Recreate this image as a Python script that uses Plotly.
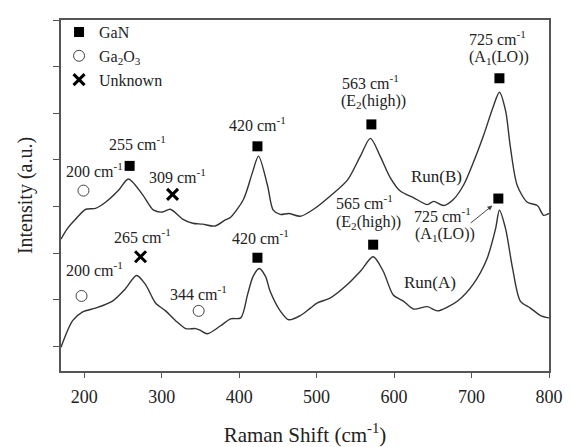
import plotly.graph_objects as go

# ---- data ----
run_b_x = [170, 178, 189, 202, 214.6, 227.5, 244, 257, 275, 289.6, 301, 311, 327, 340, 352.7, 369, 382, 389,
           405.5, 417, 425, 436.6, 444, 453, 464, 479, 496, 518, 540, 556.5, 569.4, 582, 595, 608, 625, 643,
           651, 664, 676.5, 689.4, 702, 715, 728, 736, 744, 750, 759, 772, 785, 793, 800]
run_b_y = [3.30, 3.52, 3.73, 3.94, 3.96, 4.09, 4.34, 4.59, 4.26, 3.92, 3.88, 3.94, 3.73, 3.64, 3.62, 3.58, 3.71, 3.77,
           4.15, 4.72, 5.08, 4.45, 3.92, 3.83, 3.85, 3.79, 3.94, 4.23, 4.57, 5.08, 5.46, 5.08, 4.62, 4.33, 4.19, 4.04,
           4.11, 4.02, 4.15, 4.45, 4.93, 5.50, 6.14, 6.45, 6.05, 5.29, 4.45, 4.09, 4.02, 3.81, 3.85]

run_a_x = [170, 185, 198, 214.6, 236.5, 253, 267.5, 279, 292, 305, 318, 331, 344, 350, 359, 376, 389, 402,
           411, 418, 426, 434, 440, 453, 464, 479, 492, 501, 518, 540, 556.5, 573, 586, 599, 612, 625, 643,
           656, 670, 682, 702, 720, 731, 736, 744, 753, 763, 776, 789, 800]
run_a_y = [0.98, 1.55, 1.74, 1.82, 1.97, 2.23, 2.52, 2.33, 1.93, 1.76, 1.55, 1.38, 1.38, 1.34, 1.27, 1.44, 1.59, 1.61,
           2.12, 2.50, 2.67, 2.50, 2.18, 1.76, 1.57, 1.66, 1.82, 1.93, 2.04, 2.33, 2.61, 2.92, 2.61, 2.10, 1.97, 1.80, 1.85,
           1.76, 1.85, 1.97, 2.33, 2.88, 3.52, 3.92, 3.52, 2.67, 1.97, 1.82, 1.66, 1.61]

gan_x = [258.6, 423.6, 570.7, 736, 423.6, 573, 734.6]
gan_y = [4.87, 5.29, 5.76, 6.75, 2.90, 3.18, 4.17]
ga2o3_x = [199, 196.5, 347.7]
ga2o3_y = [4.34, 2.08, 1.76]
unk_x = [314, 272.7]
unk_y = [4.26, 2.92]

x_ticks = [200, 300, 400, 500, 600, 700, 800]
y_ticks = [1, 2, 3, 4, 5, 6, 7, 8]

# labels: (text, x, y)
labels = [
    ("255 cm<sup>-1</sup>", 269, 5.36),
    ("200 cm<sup>-1</sup>", 212.6, 4.79),
    ("309 cm<sup>-1</sup>", 320.4, 4.66),
    ("265 cm<sup>-1</sup>", 274.8, 3.37),
    ("200 cm<sup>-1</sup>", 212.6, 2.66),
    ("344 cm<sup>-1</sup>", 348, 2.15),
    ("420 cm<sup>-1</sup>", 424, 5.76),
    ("420 cm<sup>-1</sup>", 427.5, 3.35),
    ("563 cm<sup>-1</sup>", 569.4, 6.66),
    ("(E<sub>2</sub>(high))", 573, 6.26),
    ("565 cm<sup>-1</sup>", 561.6, 4.09),
    ("(E<sub>2</sub>(high))", 567.5, 3.66),
    ("725 cm<sup>-1</sup>", 733.3, 7.61),
    ("(A<sub>1</sub>(LO))", 735, 7.19),
    ("725 cm<sup>-1</sup>", 662, 3.81),
    ("(A<sub>1</sub>(LO))", 666, 3.40),
]
run_labels = [("Run(B)", 654.8, 4.65), ("Run(A)", 647, 2.36)]

FONT = "Liberation Serif, Times New Roman, Times, serif"
LINE = "#333333"

fig = go.Figure()
fig.add_trace(go.Scatter(x=run_b_x, y=run_b_y, mode="lines", line=dict(color=LINE, width=1.4, shape="spline", smoothing=0.8),
                         showlegend=False, hoverinfo="skip"))
fig.add_trace(go.Scatter(x=run_a_x, y=run_a_y, mode="lines", line=dict(color=LINE, width=1.4, shape="spline", smoothing=0.8),
                         showlegend=False, hoverinfo="skip"))
fig.add_trace(go.Scatter(x=gan_x, y=gan_y, mode="markers", name="GaN",
                         marker=dict(symbol="square", size=10, color="black")))
fig.add_trace(go.Scatter(x=ga2o3_x, y=ga2o3_y, mode="markers", name="Ga<sub>2</sub>O<sub>3</sub>",
                         marker=dict(symbol="circle-open", size=11, color="#444", line=dict(width=1))))
fig.add_trace(go.Scatter(x=unk_x, y=unk_y, mode="markers", name="Unknown",
                         marker=dict(symbol="x-thin", size=11, color="black", line=dict(width=3, color="black"))))

for t, x, y in labels + run_labels:
    fig.add_annotation(x=x, y=y, text=t, showarrow=False, xanchor="center", yanchor="middle",
                       font=dict(family=FONT, size=17 if t.startswith("Run") else 16, color="#222"))

# arrow for the lower 725 label
fig.add_annotation(x=727, y=4.02, ax=697, ay=3.62, axref="x", ayref="y", text="", showarrow=True,
                   arrowhead=2, arrowsize=1, arrowwidth=1, arrowcolor="#444")

fig.update_layout(
    width=563, height=439,
    margin=dict(l=53, r=22, t=7, b=76),
    paper_bgcolor="white", plot_bgcolor="white",
    font=dict(family=FONT, size=18, color="#222"),
    legend=dict(x=-0.004, y=1.014, xanchor="left", yanchor="top", bgcolor="rgba(0,0,0,0)",
                font=dict(family=FONT, size=16, color="#222"), tracegroupgap=0, itemwidth=30),
    showlegend=True,
)
fig.update_xaxes(range=[170, 800], tickvals=x_ticks, ticks="outside", ticklen=5, tickcolor="#555",
                 showline=True, linecolor="#555", linewidth=1.5, mirror=True, showgrid=False, zeroline=False,
                 automargin=False, ticklabelstandoff=4,
                 tickfont=dict(family=FONT, size=18, color="#222"),
                 title=dict(text="Raman Shift (cm<sup>-1</sup>)", font=dict(family=FONT, size=21, color="#222"), standoff=27))
fig.update_yaxes(range=[0.47, 8.0], tickvals=y_ticks, showticklabels=False, ticks="outside", ticklen=6, tickcolor="#555",
                 showline=True, linecolor="#555", linewidth=1.5, mirror=True, showgrid=False, zeroline=False,
                 automargin=False,
                 title=dict(text="Intensity (a.u.)", font=dict(family=FONT, size=20, color="#222"), standoff=15))

fig.write_html("out.html")
